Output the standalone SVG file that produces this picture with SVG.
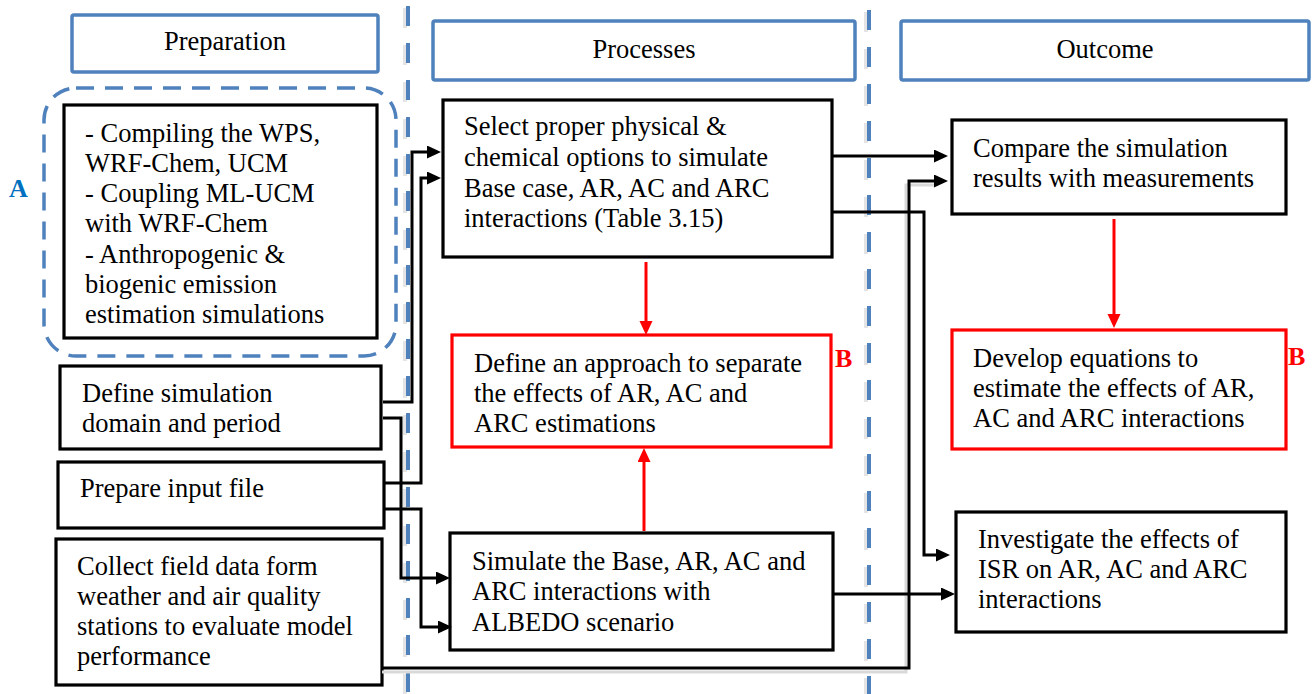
<svg xmlns="http://www.w3.org/2000/svg" width="1312" height="694" viewBox="0 0 1312 694">
<style>
.t{font-family:"Liberation Serif","Times New Roman",serif;font-size:26.5px;fill:#000}
.hdr{fill:#fff;stroke:#4f81bd;stroke-width:3.5}
.box{fill:#fff;stroke:#000;stroke-width:3.2}
.rbox{fill:#fff;stroke:#ff0000;stroke-width:3.2}
.c{fill:none;stroke:#000;stroke-width:3}
.rc{fill:none;stroke:#ff0000;stroke-width:3}
.sh{fill:none;stroke:#d9d9d9;stroke-width:3}
.vd{fill:none;stroke:#4f81bd;stroke-width:4;stroke-dasharray:20 17}
.vds{fill:none;stroke:#e4e4e4;stroke-width:4;stroke-dasharray:20 17}
.lbl{font-family:"Liberation Serif","Times New Roman",serif;font-size:26px;font-weight:bold}
</style>
<defs>
<marker id="ab" markerUnits="userSpaceOnUse" markerWidth="16" markerHeight="14" refX="10" refY="6.5" orient="auto"><path d="M0,0 L14,6.5 L0,13 z" fill="#000"/></marker>
<marker id="ar" markerUnits="userSpaceOnUse" markerWidth="16" markerHeight="14" refX="10" refY="6.5" orient="auto"><path d="M0,0 L14,6.5 L0,13 z" fill="#ff0000"/></marker>
</defs>

<g id="separators">
<path class="vds" d="M405,8 V694"/>
<path class="vd" d="M408,6 V694"/>
<path class="vds" d="M866,12 V694"/>
<path class="vd" d="M869,10 V694"/>
</g>

<g id="preparation">
<rect class="hdr" x="72" y="15" width="306" height="57" rx="2"/>
<text class="t" x="225" y="50" text-anchor="middle">Preparation</text>
</g>
<g id="processes">
<rect class="hdr" x="433" y="21" width="422" height="59" rx="2"/>
<text class="t" x="644" y="58" text-anchor="middle">Processes</text>
</g>
<g id="outcome">
<rect class="hdr" x="901" y="21" width="408" height="59" rx="2"/>
<text class="t" x="1105" y="58" text-anchor="middle">Outcome</text>
</g>

<g id="groupA">
<rect x="44" y="88" width="352" height="268" rx="32" fill="none" stroke="#4f81bd" stroke-width="3.5" stroke-dasharray="18 11"/>
<text class="lbl" x="9" y="197" fill="#0070c0">A</text>
</g>

<g id="compiling">
<rect class="box" x="64" y="105" width="313" height="233"/>
<text class="t" x="85" y="142">- Compiling the WPS,</text>
<text class="t" x="85" y="172">WRF-Chem, UCM</text>
<text class="t" x="85" y="202">- Coupling ML-UCM</text>
<text class="t" x="85" y="232">with WRF-Chem</text>
<text class="t" x="85" y="263">- Anthropogenic &amp;</text>
<text class="t" x="85" y="293">biogenic emission</text>
<text class="t" x="85" y="323">estimation simulations</text>
</g>

<g id="domain">
<rect class="box" x="60" y="366" width="321" height="83"/>
<text class="t" x="82" y="402">Define simulation</text>
<text class="t" x="82" y="432">domain and period</text>
</g>

<g id="input">
<rect class="box" x="58" y="462" width="326" height="66"/>
<text class="t" x="80" y="497">Prepare input file</text>
</g>

<g id="collect">
<rect class="box" x="56" y="539" width="326" height="146"/>
<text class="t" x="77" y="575">Collect field data form</text>
<text class="t" x="77" y="605">weather and air quality</text>
<text class="t" x="77" y="635">stations to evaluate model</text>
<text class="t" x="77" y="665">performance</text>
</g>

<g id="select">
<rect class="box" x="443" y="100" width="389" height="157"/>
<text class="t" x="464" y="135">Select proper physical &amp;</text>
<text class="t" x="464" y="166">chemical options to simulate</text>
<text class="t" x="464" y="197">Base case, AR, AC and ARC</text>
<text class="t" x="464" y="227">interactions (Table 3.15)</text>
</g>

<g id="approach">
<rect class="rbox" x="452" y="335" width="379" height="112"/>
<text class="t" x="474" y="372">Define an approach to separate</text>
<text class="t" x="474" y="402">the effects of AR, AC and</text>
<text class="t" x="474" y="432">ARC estimations</text>
<text class="lbl" x="835" y="367" fill="#ff0000">B</text>
</g>

<g id="simulate">
<rect class="box" x="450" y="533" width="383" height="117"/>
<text class="t" x="472" y="570">Simulate the Base, AR, AC and</text>
<text class="t" x="472" y="600">ARC interactions with</text>
<text class="t" x="472" y="631">ALBEDO scenario</text>
</g>

<g id="compare">
<rect class="box" x="952" y="120" width="334" height="94"/>
<text class="t" x="973" y="157">Compare the simulation</text>
<text class="t" x="973" y="187">results with measurements</text>
</g>

<g id="develop">
<rect class="rbox" x="952" y="330" width="334" height="119"/>
<text class="t" x="973" y="367">Develop equations to</text>
<text class="t" x="973" y="397">estimate the effects of AR,</text>
<text class="t" x="973" y="427">AC and ARC interactions</text>
<text class="lbl" x="1288" y="365" fill="#ff0000">B</text>
</g>

<g id="investigate">
<rect class="box" x="956" y="512" width="330" height="120"/>
<text class="t" x="978" y="548">Investigate the effects of</text>
<text class="t" x="978" y="578">ISR on AR, AC and ARC</text>
<text class="t" x="978" y="608">interactions</text>
</g>

<g id="connectors">
<path class="sh" d="M382,672 H906 V185 H935"/>
<path class="c" d="M382,668 H909 V181 H944" marker-end="url(#ab)"/>
<path class="c" d="M383,402 H412 V152 H437" marker-end="url(#ab)"/>
<path class="c" d="M383,483 H421 V178 H437" marker-end="url(#ab)"/>
<path class="c" d="M383,418 H401 V578 H446" marker-end="url(#ab)"/>
<path class="c" d="M383,509 H421 V627 H448" marker-end="url(#ab)"/>
<path class="c" d="M832,156 H944" marker-end="url(#ab)"/>
<path class="c" d="M832,212 H924 V555 H946" marker-end="url(#ab)"/>
<path class="c" d="M833,594 H951" marker-end="url(#ab)"/>
<path class="rc" d="M646,262 V331" marker-end="url(#ar)"/>
<path class="rc" d="M644,531 V452" marker-end="url(#ar)"/>
<path class="rc" d="M1114,219 V324" marker-end="url(#ar)"/>
</g>
</svg>
